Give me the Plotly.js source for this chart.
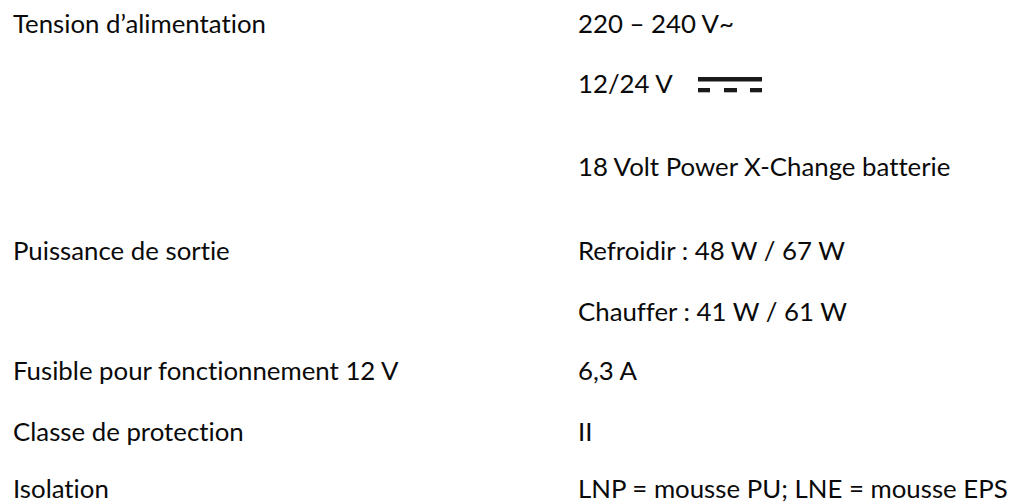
<!DOCTYPE html>
<html>
<head>
<meta charset="utf-8">
<script src="https://cdn.plot.ly/plotly-3.0.1.min.js"></script>
<style>
html,body{margin:0;padding:0;background:#fff;}
#chart{width:1011px;height:503px;}
#chart text{font-variant-ligatures:none;font-feature-settings:"liga" 0;}
</style>
</head>
<body>
<div id="chart"></div>
<script>
// Specification labels (left column) and values (right column)
const labels = ["Tension d’alimentation", "Puissance de sortie", "Fusible pour fonctionnement 12 V", "Classe de protection", "Isolation"];
const values = ["220 – 240 V~", "12/24 V", "18 Volt Power X-Change batterie", "Refroidir : 48 W / 67 W", "Chauffer : 41 W / 61 W", "6,3 A", "II", "LNP = mousse PU; LNE = mousse EPS"];
// row index of each label among value rows
const labelRow = [0, 3, 5, 6, 7];

// layout (pixel-like axis coordinates)
const rowY = [27, 87, 170, 254, 315, 374, 435, 492];
const leftX = 13, rightX = 578;

const font = {family: "Lato, 'Open Sans', sans-serif", size: 25.8, color: "#0a0a0a"};

const traces = [
  {
    type: "scatter", mode: "text",
    x: labels.map(() => leftX),
    y: labelRow.map(i => rowY[i]),
    text: labels, textposition: "middle right", textfont: font,
    hoverinfo: "skip", showlegend: false, cliponaxis: false
  },
  {
    type: "scatter", mode: "text",
    x: values.map(() => rightX),
    y: values.map((v, i) => rowY[i]),
    text: values, textposition: "middle right", textfont: font,
    hoverinfo: "skip", showlegend: false, cliponaxis: false
  }
];

// DC symbol (solid line over dashed line) next to "12/24 V"
const dcY = 84;
const shapes = [
  {type: "rect", xref: "x", yref: "y", x0: 698, x1: 762, y0: dcY - 7, y1: dcY - 2.5, fillcolor: "#1a1a1a", line: {width: 0}},
  {type: "rect", xref: "x", yref: "y", x0: 698, x1: 710, y0: dcY + 4, y1: dcY + 8.3, fillcolor: "#1a1a1a", line: {width: 0}},
  {type: "rect", xref: "x", yref: "y", x0: 724, x1: 737, y0: dcY + 4, y1: dcY + 8.3, fillcolor: "#1a1a1a", line: {width: 0}},
  {type: "rect", xref: "x", yref: "y", x0: 750, x1: 762, y0: dcY + 4, y1: dcY + 8.3, fillcolor: "#1a1a1a", line: {width: 0}}
];

const layout = {
  width: 1011, height: 503,
  margin: {l: 0, r: 0, t: 0, b: 0},
  paper_bgcolor: "#fff", plot_bgcolor: "#fff",
  xaxis: {range: [0, 1011], visible: false, fixedrange: true},
  yaxis: {range: [503, 0], visible: false, fixedrange: true},
  shapes: shapes,
  showlegend: false
};

Plotly.newPlot("chart", traces, layout, {staticPlot: true, displayModeBar: false});
</script>
</body>
</html>
